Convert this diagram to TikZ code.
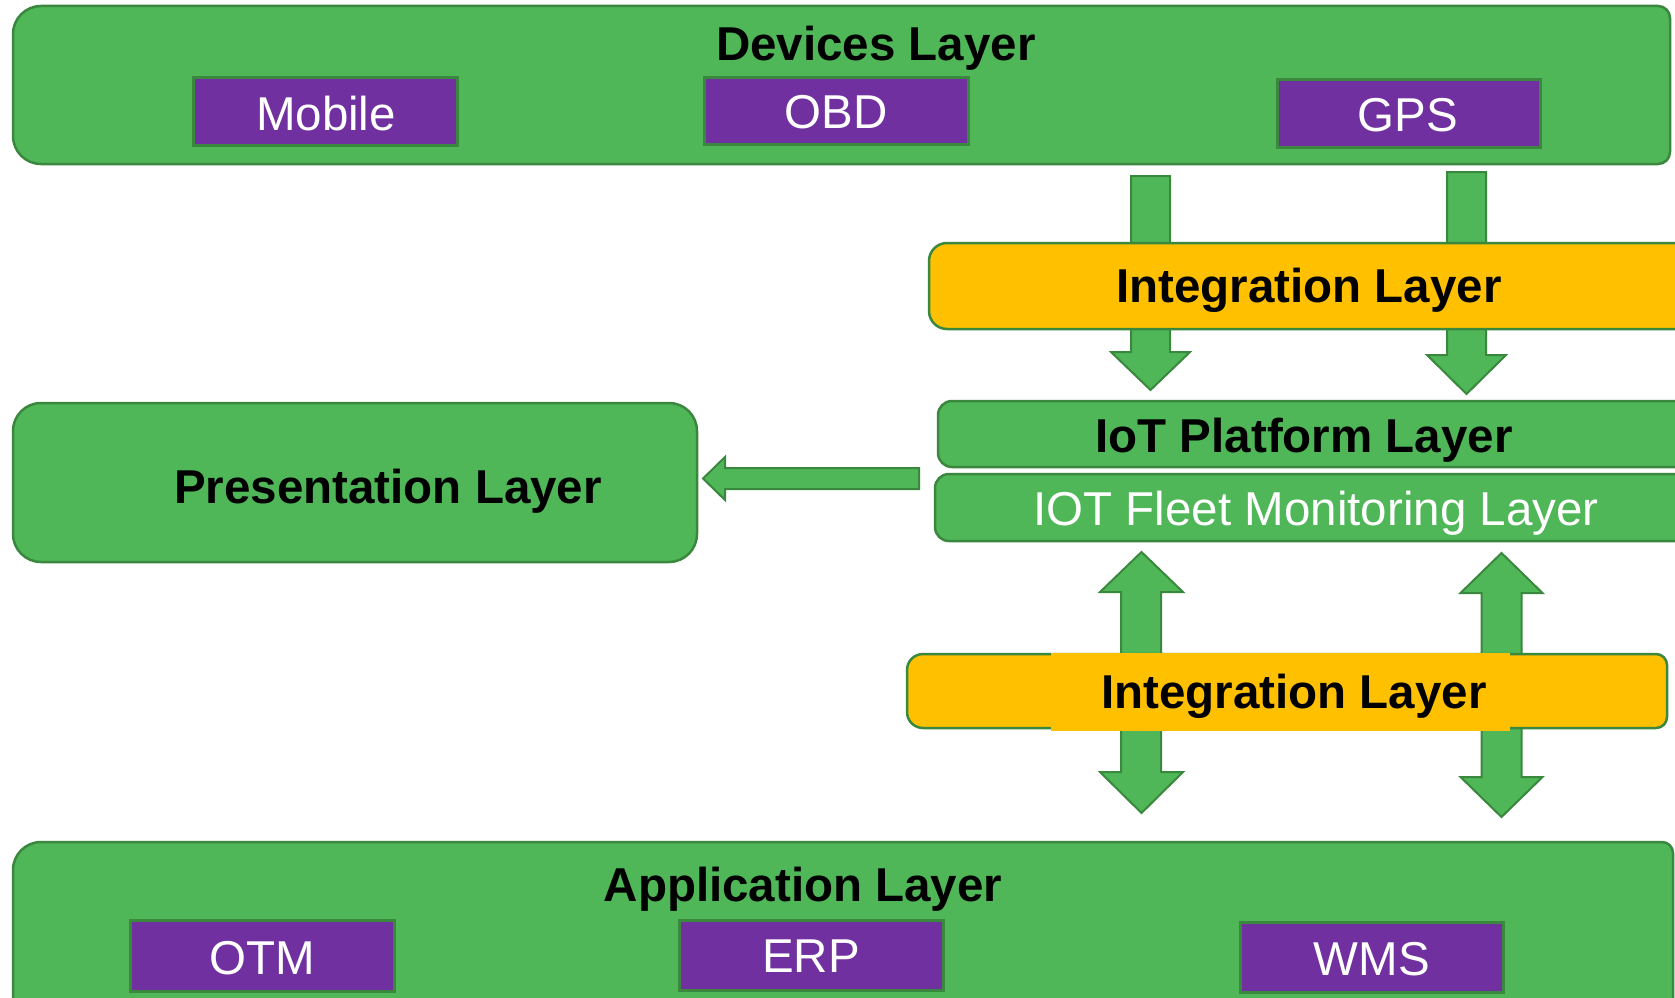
\documentclass[tikz,border=0pt]{standalone}
\usepackage{fontspec}
\setmainfont{Liberation Sans}
\definecolor{layergreen}{RGB}{79,183,88}
\definecolor{edgegreen}{RGB}{58,135,62}
\definecolor{intorange}{RGB}{255,192,0}
\definecolor{devpurple}{RGB}{112,48,160}
\begin{document}
\begin{tikzpicture}[x=1pt,y=-1pt,
  panel/.style={fill=layergreen,draw=edgegreen,line width=2.5pt},
  bridge/.style={fill=intorange,draw=edgegreen,line width=2.5pt},
  unit/.style={fill=devpurple,draw=edgegreen,line width=3pt},
  flow/.style={fill=layergreen,draw=edgegreen,line width=2pt,line join=miter},
  title/.style={font=\fontsize{47.5}{57}\selectfont\bfseries,text=black,anchor=base,inner sep=0pt},
  item/.style={font=\fontsize{47.5}{57}\selectfont,text=white,anchor=base,inner sep=0pt}]

\useasboundingbox (0,0) rectangle (1675,998);
\clip (0,0) rectangle (1675,998);
\fill[white] (0,0) rectangle (1675,998);

% ---- Devices layer ----
\draw[panel] (13,85) [rounded corners=28pt] -- (13,6) -- (800,6)
  [rounded corners=12pt] -- (1670,6) -- (1670,164) -- (800,164)
  [rounded corners=28pt] -- (13,164) -- cycle;
\node[title] (devices) at (876,61) {Devices Layer};
\draw[unit] (193,77) rectangle (457,145);
\node[item] (mobile) at (326,130) {Mobile};
\draw[unit] (704,77) rectangle (968,144);
\node[item] (obd) at (836,128) {OBD};
\draw[unit] (1277,79) rectangle (1540,147);
\node[item] (gps) at (1408,131) {GPS};

% ---- downward block arrows (behind the upper integration band) ----
\draw[flow] (1131,176) -- (1170,176) -- (1170,352) -- (1190,352)
  -- (1150.5,390) -- (1111,352) -- (1131,352) -- cycle;
\draw[flow] (1447,172) -- (1486,172) -- (1486,355) -- (1506,355)
  -- (1466.5,394) -- (1427,355) -- (1447,355) -- cycle;

% ---- upper integration band ----
\draw[bridge] (929,290) [rounded corners=18pt] -- (929,243) -- (1710,243)
  -- (1710,329) -- (929,329) -- cycle;
\node[title] (integA) at (1309,302) {Integration Layer};

% ---- IoT platform and fleet monitoring bands ----
\draw[panel] (938,430) [rounded corners=14pt] -- (938,401) -- (1710,401)
  -- (1710,467) -- (938,467) -- cycle;
\node[title] (platform) at (1304,452) {IoT Platform Layer};
\draw[panel] (935,505) [rounded corners=14pt] -- (935,474) -- (1710,474)
  -- (1710,541) -- (935,541) -- cycle;
\node[item] (fleet) at (1316,525) {IOT Fleet Monitoring Layer};

% ---- presentation layer and its feed arrow ----
\draw[panel, rounded corners=28pt] (13,403) rectangle (697,562);
\node[title] (presentation) at (388,503) {Presentation Layer};
\draw[flow] (919,468) -- (725,468) -- (725,457) -- (703,478.5)
  -- (725,500) -- (725,489) -- (919,489) -- cycle;

% ---- two-way block arrows (behind the lower integration band) ----
\draw[flow] (1141.5,552) -- (1183,592) -- (1161,592) -- (1161,772)
  -- (1183,772) -- (1141.5,813) -- (1100,772) -- (1121,772)
  -- (1121,592) -- (1100,592) -- cycle;
\draw[flow] (1501.5,553) -- (1542.5,593) -- (1521.5,593) -- (1521.5,777)
  -- (1542.5,777) -- (1501.5,817) -- (1460.5,777) -- (1481.5,777)
  -- (1481.5,593) -- (1460.5,593) -- cycle;

% ---- lower integration band ----
\draw[bridge] (907,690) [rounded corners=16pt] -- (907,654) -- (1300,654)
  [rounded corners=11pt] -- (1667,654) -- (1667,728) -- (1300,728)
  [rounded corners=16pt] -- (907,728) -- cycle;
\fill[intorange] (1051,653) rectangle (1510,731);
\node[title] (integB) at (1294,708) {Integration Layer};

% ---- Application layer ----
\draw[panel] (13,900) [rounded corners=28pt] -- (13,842) -- (800,842)
  [rounded corners=11pt] -- (1673,842) -- (1673,1030) -- (800,1030)
  [rounded corners=28pt] -- (13,1030) -- cycle;
\node[title] (application) at (803,901) {Application Layer};
\draw[unit] (130,920) rectangle (394,991);
\node[item] (otm) at (262,974) {OTM};
\draw[unit] (679,920) rectangle (943,990);
\node[item] (erp) at (811,972) {ERP};
\draw[unit] (1240,922) rectangle (1503,992);
\node[item] (wms) at (1372,975) {WMS};
\end{tikzpicture}
\end{document}
